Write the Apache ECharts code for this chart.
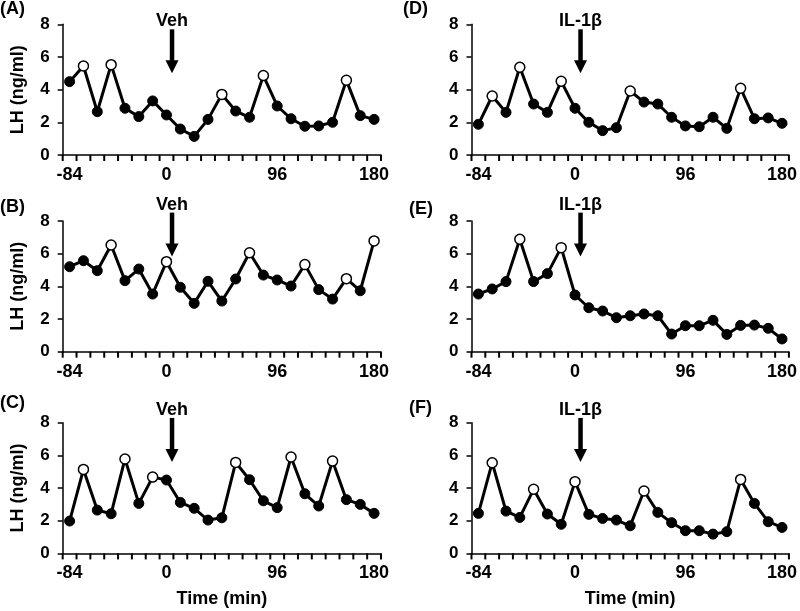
<!DOCTYPE html>
<html>
<head>
<meta charset="utf-8">
<script src="https://cdn.jsdelivr.net/npm/echarts@6/dist/echarts.min.js"></script>
<style>
html,body{margin:0;padding:0;background:#fff;}
#c{width:800px;height:611px;}
</style>
</head>
<body>
<div id="c"></div>
<script>
// Time categories (min)
const timeCats = ['-84','-72','-60','-48','-36','-24','-12','0','12','24','36','48','60','72','84','96','108','120','132','144','156','168','180'];
const shownTimeLabels = ['-84','0','96','180'];
// tick-mark scale: boundaries between 12-min samples
const tickScale = {min:-90, max:186, interval:12};

// LH values (ng/ml)
const lhA = [4.49,5.45,2.65,5.53,2.86,2.35,3.31,2.45,1.59,1.14,2.18,3.71,2.69,2.31,4.86,3.00,2.22,1.76,1.78,2.00,4.57,2.41,2.18];
const lhB = [5.20,5.57,4.96,6.53,4.35,5.06,3.53,5.51,3.94,2.96,4.31,3.10,4.45,6.06,4.69,4.39,4.02,5.33,3.80,3.22,4.47,3.73,6.78];
const lhC = [1.98,5.14,2.65,2.43,5.78,3.06,4.67,4.49,3.12,2.76,2.04,2.18,5.57,4.51,3.22,2.80,5.90,3.65,2.90,5.65,3.29,3.00,2.45];
const lhD = [1.88,3.61,2.61,5.37,3.12,2.61,4.51,2.86,2.00,1.49,1.67,3.92,3.24,3.12,2.31,1.78,1.73,2.31,1.63,4.08,2.22,2.27,1.94];
const lhE = [3.53,3.84,4.29,6.88,4.29,4.78,6.37,3.47,2.69,2.49,2.08,2.20,2.31,2.20,1.08,1.59,1.59,1.92,1.06,1.61,1.63,1.43,0.78];
const lhF = [2.45,5.55,2.59,2.20,3.92,2.41,1.78,4.39,2.39,2.14,2.04,1.69,3.82,2.51,1.88,1.39,1.39,1.18,1.33,4.53,3.06,1.94,1.59];

// indices of pulse peaks (open circles)
const peaksA = [1,3,11,14,20];
const peaksB = [3,7,13,17,20,22];
const peaksC = [1,4,6,12,16,19];
const peaksD = [1,3,6,11,19];
const peaksE = [3,6];
const peaksF = [1,4,7,12,19];

const panelLetters = ['(A)','(B)','(C)','(D)','(E)','(F)'];
const treatments = ['Veh','Veh','Veh','IL-1β','IL-1β','IL-1β'];
const arrowTips = [5.0,5.82,5.6,5.0,5.82,5.6];

const yTicks = {min:0, max:8, interval:2};
const FONT = '"Liberation Sans", Arial, Helvetica, sans-serif';

const panels = [
  {vals:lhA, peaks:peaksA},
  {vals:lhB, peaks:peaksB},
  {vals:lhC, peaks:peaksC},
  {vals:lhD, peaks:peaksD},
  {vals:lhE, peaks:peaksE},
  {vals:lhF, peaks:peaksF}
];

const gridPos = [
  {left:62.7, top:24.3, width:318.3, height:130.7},
  {left:62.7, top:221, width:318.3, height:130.7},
  {left:62.7, top:422.7, width:318.3, height:130.7},
  {left:471.5, top:24.3, width:319.2, height:130.7},
  {left:471.5, top:221, width:319.2, height:130.7},
  {left:471.5, top:422.7, width:319.2, height:130.7}
];
const letterPos = [
  {left:0, top:0},{left:0, top:198},{left:0, top:394},
  {left:403, top:0},{left:409, top:200},{left:409, top:399}
];

const grids = [], xAxes = [], yAxes = [], series = [], titles = [];
panels.forEach((p, i) => {
  grids.push(Object.assign({containLabel:false}, gridPos[i]));
  const bottom = (i === 2 || i === 5);
  const leftCol = i < 3;
  // category axis: labels, line, name
  xAxes.push({
    type:'category', gridIndex:i, data:timeCats, boundaryGap:true, position:'bottom',
    axisLine:{show:true, onZero:false, lineStyle:{color:'#000', width:1.5}},
    axisTick:{show:false},
    axisLabel:{
      interval:(idx, val) => shownTimeLabels.indexOf(val) >= 0,
      color:'#000', fontFamily:FONT, fontWeight:'bold', fontSize:18, margin:11
    },
    splitLine:{show:false},
    name: bottom ? 'Time (min)' : '',
    nameLocation:'middle', nameGap:37,
    nameTextStyle:{color:'#000', fontFamily:FONT, fontWeight:'bold', fontSize:18}
  });
  // value axis (hidden): scale for tick marks at sample boundaries
  xAxes.push({
    type:'value', gridIndex:i, position:'bottom', offset:0,
    min:tickScale.min, max:tickScale.max, interval:tickScale.interval,
    axisLine:{show:false, onZero:false},
    axisTick:{show:false},
    axisLabel:{show:false},
    splitLine:{show:false}
  });
  yAxes.push({
    type:'value', gridIndex:i, min:yTicks.min, max:yTicks.max, interval:yTicks.interval,
    axisLine:{show:true, onZero:false, lineStyle:{color:'#000', width:1.5}},
    axisTick:{show:true, length:5, lineStyle:{color:'#000', width:1.5}},
    axisLabel:{color:'#000', fontFamily:FONT, fontWeight:'bold', fontSize:17, margin:13},
    splitLine:{show:false},
    name: leftCol ? 'LH (ng/ml)' : '',
    nameLocation:'middle', nameGap:36, nameRotate:90,
    nameTextStyle:{color:'#000', fontFamily:FONT, fontWeight:'bold', fontSize:18}
  });
  series.push({
    type:'line', xAxisIndex:2*i, yAxisIndex:i,
    data: p.vals.map((v, k) => ({
      value: v,
      itemStyle: p.peaks.indexOf(k) >= 0
        ? {color:'#fff', borderColor:'#000', borderWidth:1.5}
        : {color:'#000', borderColor:'#000', borderWidth:1}
    })),
    symbol:'circle', symbolSize:10, showSymbol:true, showAllSymbol:true,
    lineStyle:{color:'#000', width:3},
    itemStyle:{color:'#000'},
    animation:false, silent:true, z:3
  });
  titles.push({
    text: panelLetters[i], left: letterPos[i].left, top: letterPos[i].top, padding:0,
    textStyle:{color:'#000', fontFamily:FONT, fontWeight:'bold', fontSize:18}
  });
});

const chart = echarts.init(document.getElementById('c'), null, {renderer:'canvas'});
chart.setOption({
  animation:false,
  backgroundColor:'#fff',
  title: titles,
  grid: grids, xAxis: xAxes, yAxis: yAxes, series: series
});

const graphics = [];
panels.forEach((p, i) => {
  // x tick marks at sample boundaries, positioned with the tick-scale axis
  const yBase = chart.convertToPixel({yAxisIndex:i}, yTicks.min);
  for (let v = tickScale.min; v <= tickScale.max; v += tickScale.interval) {
    const tx = chart.convertToPixel({xAxisIndex:2*i + 1}, v);
    graphics.push({
      type:'line', shape:{x1:tx, y1:yBase, x2:tx, y2:yBase + 6},
      style:{stroke:'#000', lineWidth:2}, z:5, silent:true
    });
  }
  // treatment arrow annotation
  const p0 = chart.convertToPixel({seriesIndex:i}, [7, arrowTips[i]]);
  const p1 = chart.convertToPixel({seriesIndex:i}, [8, arrowTips[i]]);
  const ax = p0[0] + 0.4 * (p1[0] - p0[0]);
  const tipY = p0[1];
  const headH = 13, headW = 13, shaftW = 4.5, len = 44;
  const shaftTop = tipY - len;
  graphics.push({
    type:'rect', shape:{x:ax - shaftW/2, y:shaftTop, width:shaftW, height:len - headH + 1},
    style:{fill:'#000'}, z:10
  });
  graphics.push({
    type:'polygon', shape:{points:[[ax - headW/2, tipY - headH],[ax + headW/2, tipY - headH],[ax, tipY]]},
    style:{fill:'#000'}, z:10
  });
  graphics.push({
    type:'text', x:ax, y:shaftTop + 1,
    style:{text:treatments[i], fill:'#000', font:'bold 18px ' + FONT, textAlign:'center', textVerticalAlign:'bottom'},
    z:10
  });
});
chart.setOption({graphic: graphics});
</script>
</body>
</html>
